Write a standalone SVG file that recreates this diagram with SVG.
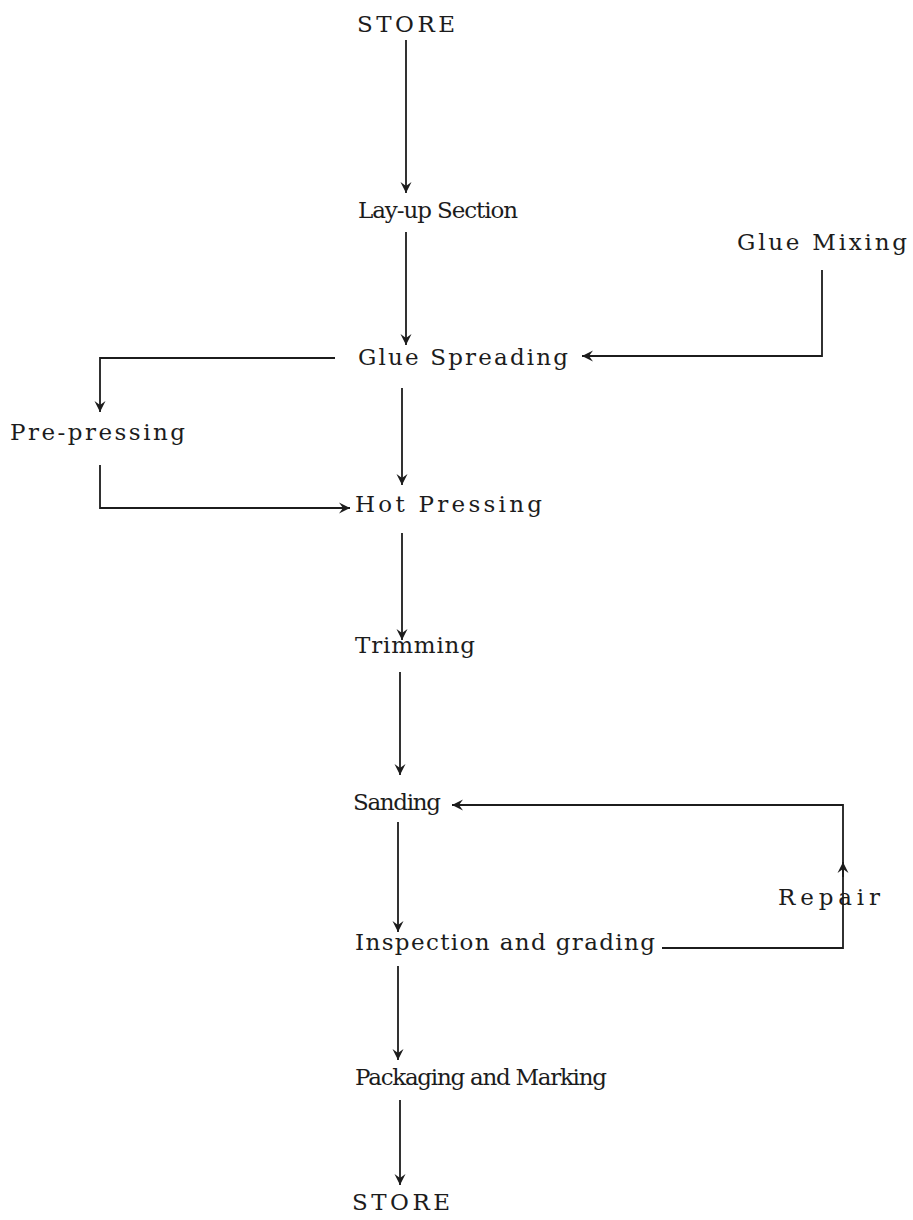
<svg xmlns="http://www.w3.org/2000/svg" width="913" height="1220" viewBox="0 0 913 1220">
<style>
text{font-family:"DejaVu Serif","Liberation Serif",serif;font-size:23px;fill:#1c1c1c}
.c{fill:none;stroke:#1c1c1c;stroke-width:1.8}
</style>
<defs>
<marker id="ah" markerWidth="14" markerHeight="14" refX="12" refY="7" orient="auto" markerUnits="userSpaceOnUse">
<path d="M1,1.5 L12,7 L1,12.5 L5,7 Z" fill="#1c1c1c"/>
</marker>
</defs>
<rect width="913" height="1220" fill="#fff"/>
<g id="store-top"><text x="357" y="32" textLength="98" lengthAdjust="spacing">STORE</text></g>
<g id="layup"><text x="358" y="218" textLength="160" lengthAdjust="spacing">Lay-up Section</text></g>
<g id="glue-mixing"><text x="737" y="250" textLength="170" lengthAdjust="spacing">Glue Mixing</text></g>
<g id="glue-spreading"><text x="358" y="365" textLength="210" lengthAdjust="spacing">Glue Spreading</text></g>
<g id="pre-pressing"><text x="10" y="440" textLength="175" lengthAdjust="spacing">Pre-pressing</text></g>
<g id="hot-pressing"><text x="355" y="512" textLength="187" lengthAdjust="spacing">Hot Pressing</text></g>
<g id="trimming"><text x="355" y="653" textLength="120" lengthAdjust="spacing">Trimming</text></g>
<g id="sanding"><text x="353" y="810" textLength="88" lengthAdjust="spacing">Sanding</text></g>
<g id="repair"><text x="778" y="905" textLength="102" lengthAdjust="spacing">Repair</text></g>
<g id="inspection"><text x="355" y="950" textLength="300" lengthAdjust="spacing">Inspection and grading</text></g>
<g id="packaging"><text x="355" y="1085" textLength="252" lengthAdjust="spacing">Packaging and Marking</text></g>
<g id="store-bottom"><text x="352" y="1210" textLength="98" lengthAdjust="spacing">STORE</text></g>
<g id="connectors">
<path class="c" d="M406,40 V193" marker-end="url(#ah)"/>
<path class="c" d="M406,232 V345" marker-end="url(#ah)"/>
<path class="c" d="M822,270 V356 H582" marker-end="url(#ah)"/>
<path class="c" d="M335,358 H100 V412" marker-end="url(#ah)"/>
<path class="c" d="M100,465 V508 H350" marker-end="url(#ah)"/>
<path class="c" d="M402,388 V485" marker-end="url(#ah)"/>
<path class="c" d="M402,533 V640" marker-end="url(#ah)"/>
<path class="c" d="M400,672 V775" marker-end="url(#ah)"/>
<path class="c" d="M843,877 V805 H452" marker-end="url(#ah)"/>
<path class="c" d="M398,822 V932" marker-end="url(#ah)"/>
<path class="c" d="M662,948 H843 V862" marker-end="url(#ah)"/>
<path class="c" d="M398,966 V1060" marker-end="url(#ah)"/>
<path class="c" d="M400,1100 V1185" marker-end="url(#ah)"/>
</g>
</svg>
